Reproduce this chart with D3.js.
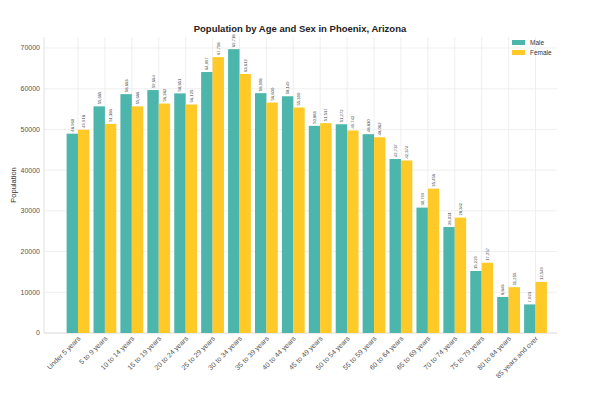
<!DOCTYPE html>
<html>
<head>
<meta charset="utf-8">
<script src="https://cdn.jsdelivr.net/npm/d3@7"></script>
<style>
  body { margin: 0; background: #fff; }
  svg { font-family: "Liberation Sans", Arial, sans-serif; }
</style>
</head>
<body>
<svg id="chart" width="607" height="396"></svg>
<script>
// ── Data ──────────────────────────────────────────────────────────
const ageGroups = [
  "Under 5 years", "5 to 9 years", "10 to 14 years", "15 to 19 years",
  "20 to 24 years", "25 to 29 years", "30 to 34 years", "35 to 39 years",
  "40 to 44 years", "45 to 49 years", "50 to 54 years", "55 to 59 years",
  "60 to 64 years", "65 to 69 years", "70 to 74 years", "75 to 79 years",
  "80 to 84 years", "85 years and over"
];
const male   = [48960, 55665, 58663, 59664, 58851, 64097, 69718, 58908, 58149,
                50881, 51272, 48830, 42737, 30799, 26031, 15229, 8846, 7023];
const female = [49918, 51366, 55666, 56362, 56125, 67758, 63612, 56600, 55390,
                51537, 49742, 48062, 42374, 35456, 28342, 17257, 11255, 12549];
const yTicks = [0, 10000, 20000, 30000, 40000, 50000, 60000, 70000];

const MALE_COLOR   = "#4db6ac";
const FEMALE_COLOR = "#ffca28";

// ── Layout ────────────────────────────────────────────────────────
const svg = d3.select("#chart");
const plot = { left: 44, right: 557, top: 37, bottom: 333 };

const x = d3.scaleLinear().domain([0, ageGroups.length - 1]).range([78, 535.5]);
const barW = 11.4;
const y = d3.scaleLinear().domain([0, 72700]).range([plot.bottom, plot.top]);

// grid
const grid = svg.append("g");
grid.selectAll("line.h").data(yTicks).join("line")
  .attr("x1", plot.left).attr("x2", plot.right)
  .attr("y1", d => y(d)).attr("y2", d => y(d))
  .attr("stroke", "#ebebeb").attr("stroke-width", 0.8);
grid.selectAll("line.v").data(ageGroups).join("line")
  .attr("x1", (d, i) => x(i)).attr("x2", (d, i) => x(i))
  .attr("y1", plot.top).attr("y2", plot.bottom)
  .attr("stroke", "#ebebeb").attr("stroke-width", 0.8);

// spines
svg.append("line").attr("x1", plot.left).attr("x2", plot.left)
  .attr("y1", plot.top).attr("y2", plot.bottom).attr("stroke", "#e0e0e0");
svg.append("line").attr("x1", plot.left).attr("x2", plot.right)
  .attr("y1", plot.bottom).attr("y2", plot.bottom).attr("stroke", "#e0e0e0");

// bars
const series = [
  { name: "Male",   values: male,   color: MALE_COLOR,   off: -barW },
  { name: "Female", values: female, color: FEMALE_COLOR, off: 0 }
];
series.forEach(s => {
  const g = svg.append("g");
  g.selectAll("rect").data(s.values).join("rect")
    .attr("x", (d, i) => x(i) + s.off)
    .attr("y", d => y(d))
    .attr("width", barW)
    .attr("height", d => y(0) - y(d))
    .attr("fill", s.color);
  g.selectAll("text").data(s.values).join("text")
    .attr("transform", (d, i) => `translate(${x(i) + s.off + barW / 2 + 1.5},${y(d) - 2}) rotate(-90)`)
    .attr("font-size", 4.2)
    .attr("fill", "#444")
    .text(d => d3.format(",")(d));
});

// y axis ticks
svg.append("g").selectAll("text").data(yTicks).join("text")
  .attr("x", plot.left - 4).attr("y", d => y(d)).attr("dy", "0.35em")
  .attr("text-anchor", "end").attr("font-size", 7).attr("fill", "#555")
  .text(d => d);

// x axis labels
svg.append("g").selectAll("text").data(ageGroups).join("text")
  .attr("transform", (d, i) => `translate(${x(i) + 3},${plot.bottom + 6}) rotate(-45)`)
  .attr("text-anchor", "end").attr("font-size", 7).attr("fill", "#555")
  .text(d => d);

// axis title
svg.append("text")
  .attr("transform", `translate(16,${(plot.top + plot.bottom) / 2}) rotate(-90)`)
  .attr("text-anchor", "middle").attr("font-size", 7.5).attr("fill", "#333")
  .text("Population");

// title
svg.append("text")
  .attr("x", 300).attr("y", 32).attr("text-anchor", "middle")
  .attr("font-size", 9.5).attr("font-weight", "bold").attr("fill", "#222")
  .text("Population by Age and Sex in Phoenix, Arizona");

// legend
const legend = svg.append("g").attr("transform", "translate(512,40)");
series.forEach((s, i) => {
  legend.append("rect").attr("x", 0).attr("y", i * 10).attr("width", 13).attr("height", 5)
    .attr("fill", s.color);
  legend.append("text").attr("x", 18).attr("y", i * 10 + 2.5).attr("dy", "0.35em")
    .attr("font-size", 6.5).attr("fill", "#333").text(s.name);
});
</script>
</body>
</html>
